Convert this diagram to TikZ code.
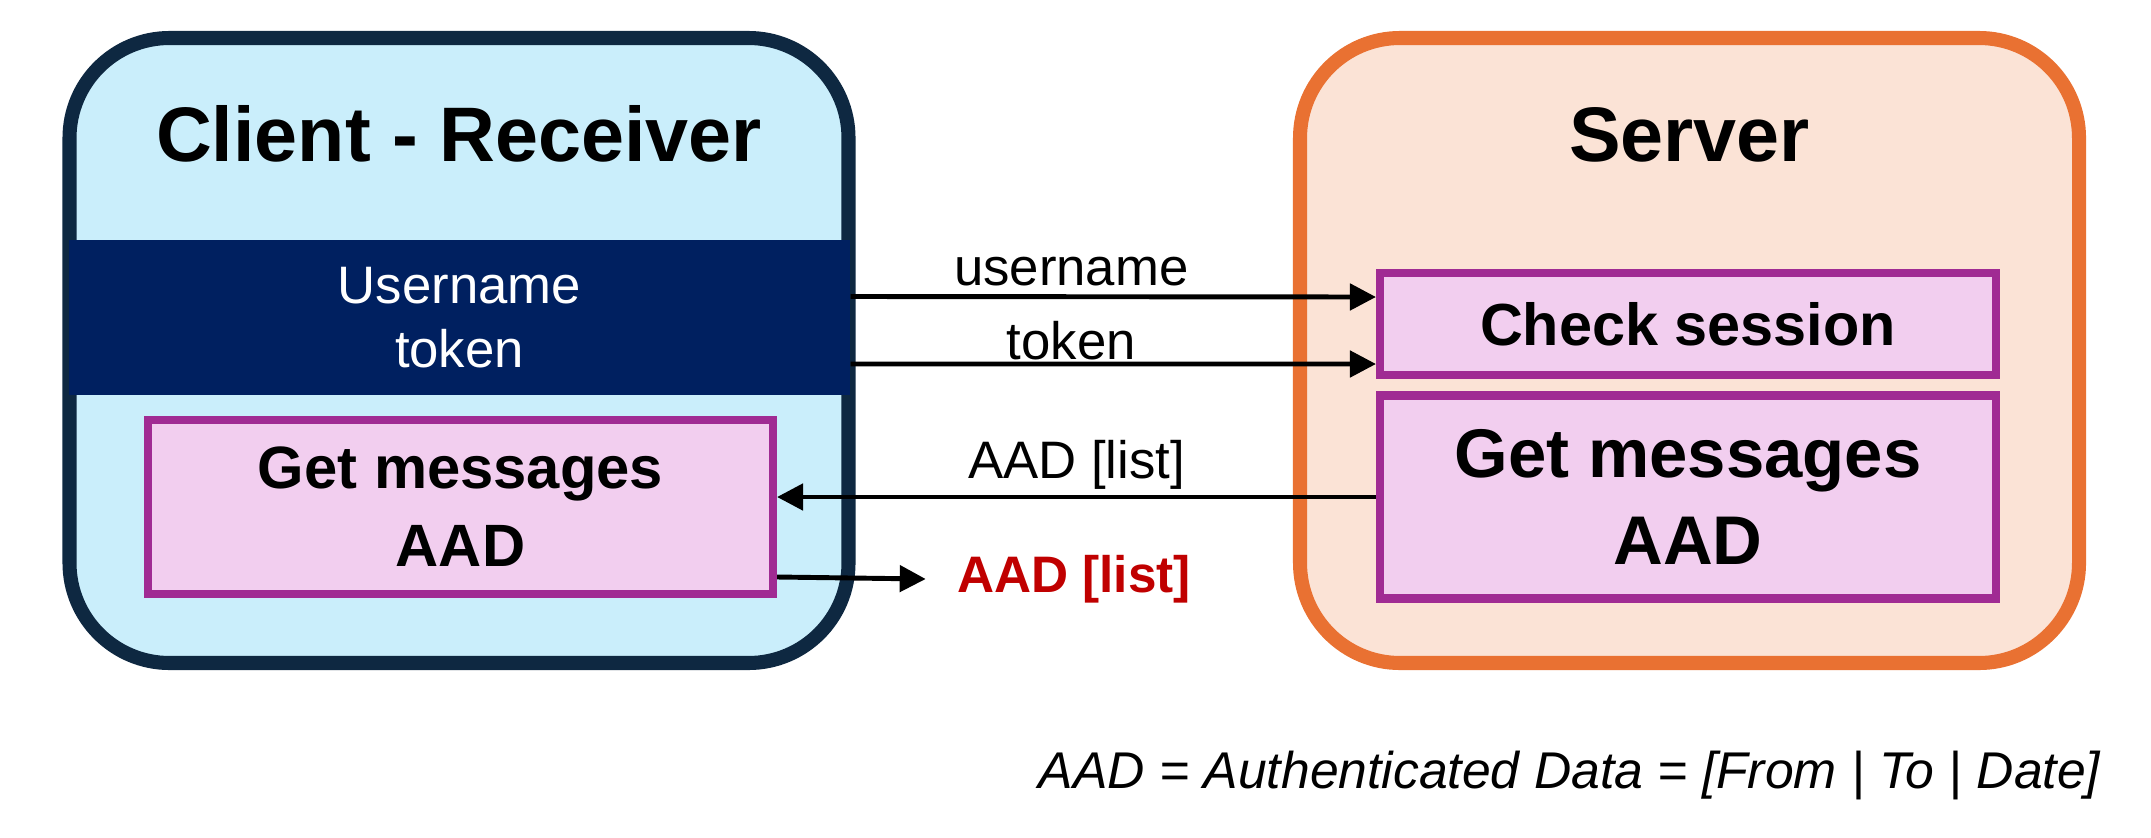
\documentclass[tikz,border=0pt]{standalone}
\usepackage{fontspec}
\setmainfont{Liberation Sans}
\usetikzlibrary{arrows.meta}

\definecolor{clifill}{HTML}{CAEEFB}
\definecolor{cliline}{HTML}{0E2841}
\definecolor{credband}{HTML}{002060}
\definecolor{srvfill}{HTML}{FBE3D6}
\definecolor{srvline}{HTML}{E97132}
\definecolor{taskline}{HTML}{A02B93}
\definecolor{taskfill}{HTML}{F2CEEF}
\definecolor{resred}{HTML}{C00000}

\tikzset{
    panel/.style={rounded corners=1cm, line width=4pt, minimum width=7.79cm, minimum height=6.25cm},
    head/.style={anchor=base, font=\bfseries\fontsize{22}{26}\selectfont},
    task/.style={draw=taskline, fill=taskfill, line width=2.3pt, align=center, inner sep=0pt},
    arr/.style={line width=1.4pt, -{Triangle[length=7.4pt,width=7.4pt]}},
    lbl/.style={font=\fontsize{15}{18}\selectfont, inner sep=2.5pt}
}

\begin{document}
\begin{tikzpicture}
        \useasboundingbox (0,0) rectangle (21.51,-8.37);

        % Client side
        \node[panel, draw=cliline, fill=clifill] (cli) at (4.59,-3.505) {};
        \node[head] (clihead) at (4.59,-1.61) {Client - Receiver};
        \node[fill=credband, text=white, inner sep=0pt, minimum width=7.81cm, minimum height=1.55cm,
              align=center, font=\fontsize{15}{18.4}\selectfont] (cred) at (4.595,-3.175) {Username\\token};
        \node[task, minimum width=6.25cm, minimum height=1.74cm, font=\bfseries\fontsize{17}{22.2}\selectfont]
              (climsg) at (4.605,-5.07) {Get messages\\AAD};

        % Server side
        \node[panel, draw=srvline, fill=srvfill] (srv) at (16.895,-3.505) {};
        \node[head] (srvhead) at (16.895,-1.61) {Server};
        \node[task, minimum width=6.16cm, minimum height=1.02cm, font=\bfseries\fontsize{16.9}{20}\selectfont]
              (chk) at (16.88,-3.24) {Check session};
        \node[task, minimum width=6.16cm, minimum height=2.03cm, font=\bfseries\fontsize{19.6}{25}\selectfont]
              (srvmsg) at (16.88,-4.97) {Get messages\\AAD};

        % Requests
        \draw[arr] ([yshift=2.1mm]cred.east) -- ([yshift=2.7mm]chk.west)
              node[lbl, above, pos=0.42, yshift=-0.1mm] {username};
        \draw[arr] ([yshift=-4.65mm]cred.east) -- ([yshift=-4mm]chk.west)
              node[lbl, above, pos=0.42, yshift=-0.7mm] {token};

        % Answer
        \draw[arr] (srvmsg.west) -- (srvmsg.west -| climsg.east)
              node[lbl, above, pos=0.5, yshift=-0.4mm] {AAD [list]};

        % Result
        \node[font=\bfseries\fontsize{14.6}{18}\selectfont, text=resred] (res) at (10.74,-5.79) {AAD [list]};
        \draw[arr] ([yshift=-7mm]climsg.east) -- ([xshift=-1.9mm]res.west);

        \node[anchor=base east, inner sep=0pt, font=\itshape\fontsize{14.7}{17}\selectfont] (note)
              at (21.01,-7.88) {AAD = Authenticated Data = [From | To | Date]};
    \end{tikzpicture}
\end{document}
